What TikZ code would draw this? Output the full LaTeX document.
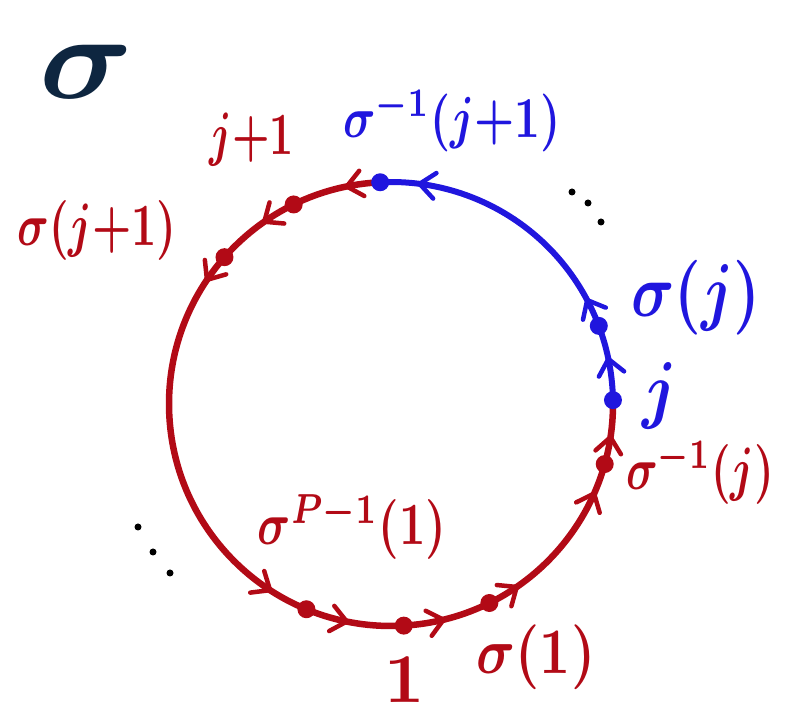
\documentclass[tikz,border=0pt]{standalone}
\usepackage{amsmath}
\definecolor{cred}{RGB}{178,10,22}
\definecolor{cblue}{RGB}{32,22,222}
\definecolor{cnavy}{RGB}{14,38,64}
\tikzset{
 redarc/.style={draw=cred, line width=6.5pt},
 bluearc/.style={draw=cblue, line width=6pt},
 chevred/.style={draw=cred, line width=4.5pt, line cap=round, line join=round},
 chevblue/.style={draw=cblue, line width=4.5pt, line cap=round, line join=round},
 reddot/.style={circle, fill=cred, inner sep=0pt, minimum size=18pt},
 bluedot/.style={circle, fill=cblue, inner sep=0pt, minimum size=18pt},
 ell/.style={circle, fill=black, inner sep=0pt, minimum size=7pt},
 redlab/.style={text=cred, inner sep=0pt, font=\boldmath},
 bluelab/.style={text=cblue, inner sep=0pt, font=\boldmath},
}
\begin{document}
\begin{tikzpicture}[x=1pt,y=1pt]
\useasboundingbox (0,0) rectangle (787,722);
\coordinate (c) at (391,318);
% points on the cycle
\path (c) ++(92.8:222) coordinate (Ptop);
\path (c) ++(116:222) coordinate (Pjp);
\path (c) ++(138.6:222) coordinate (Psjp);
\path (c) ++(247.6:222) coordinate (Psp);
\path (c) ++(273.3:222) coordinate (Pone);
\path (c) ++(296.3:222) coordinate (Psone);
\path (c) ++(344.3:222) coordinate (Psinvj);
\path (c) ++(1:222) coordinate (Pj);
\path (c) ++(20.6:222) coordinate (Psj);
% arcs
\draw[redarc] (Ptop) arc[start angle=92.8, end angle=361, radius=222];
\draw[bluearc] (Pj) arc[start angle=1, end angle=92.8, radius=222];
% chevrons
\foreach \a in {101.5,124.8,146,237,258.5,283.7,304.5,336.2,351.4} {
  \coordinate (t) at ([shift={(\a:222)}]c);
  \draw[chevred] (t) ++(\a-50:20) -- (t) -- ++(\a-130:20);
}
\foreach \a in {11.7,27.9,82.6} {
  \coordinate (t) at ([shift={(\a:222)}]c);
  \draw[chevblue] (t) ++(\a-50:20) -- (t) -- ++(\a-130:20);
}
% dots
\node[bluedot] (dtop) at (Ptop) {};
\node[reddot] (djp) at (Pjp) {};
\node[reddot] (dsjp) at (Psjp) {};
\node[reddot] (dsp) at (Psp) {};
\node[reddot] (done) at (Pone) {};
\node[reddot] (dsone) at (Psone) {};
\node[reddot] (dsinvj) at (Psinvj) {};
\node[bluedot] (dj) at (Pj) {};
\node[bluedot] (dsj) at (Psj) {};
% ellipses
\node[ell] (e1) at (572,530) {};
\node[ell] (e2) at (588,519) {};
\node[ell] (e3) at (601,500) {};
\node[ell] (e4) at (138,195) {};
\node[ell] (e5) at (153,170) {};
\node[ell] (e6) at (170,149) {};
% labels
\node[text=cnavy, inner sep=0pt, font=\boldmath, anchor=center, xscale=13, yscale=12] (title) at (86,650) {$\sigma$};
\node[redlab, anchor=base, xscale=4.2, yscale=6] (ljp) at (252,567) {$j{+}1$};
\node[redlab, anchor=base, xscale=4.4, yscale=6] (lsjp) at (97,476) {$\sigma(j{+}1)$};
\node[bluelab, anchor=base, xscale=4.5, yscale=5.8] (lsinvjp) at (452,584) {$\sigma^{-1}(j{+}1)$};
\node[bluelab, anchor=base, xscale=6, yscale=7.5] (lsj) at (696,405) {$\sigma(j)$};
\node[bluelab, anchor=center, xscale=6.5, yscale=7.5] (lj) at (660,326) {$j$};
\node[redlab, anchor=base, xscale=4.4, yscale=6] (lsinvj) at (700,232) {$\sigma^{-1}(j)$};
\node[redlab, anchor=base, xscale=4.6, yscale=6] (lsp) at (352,177) {$\sigma^{P-1}(1)$};
\node[redlab, anchor=center, scale=7] (lone) at (405,42) {$1$};
\node[redlab, anchor=base, xscale=5.4, yscale=6.5] (lsone) at (536,48) {$\sigma(1)$};
\end{tikzpicture}
\end{document}
